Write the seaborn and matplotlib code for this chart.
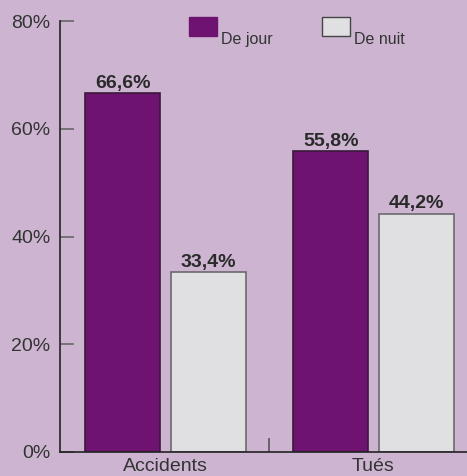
import matplotlib
matplotlib.use("Agg")
import matplotlib.pyplot as plt
import seaborn as sns
import pandas as pd
from matplotlib.patches import Patch

categories = ["Accidents", "Tués"]
series = ["De jour", "De nuit"]
de_jour = [66.6, 55.8]
de_nuit = [33.4, 44.2]
y_ticks = [0, 20, 40, 60, 80]

bg = "#CDB5D2"
purple = "#6E1470"
light = "#E0E0E2"

df = pd.DataFrame({
    "cat": categories * 2,
    "serie": [series[0]] * 2 + [series[1]] * 2,
    "val": de_jour + de_nuit,
})

sns.set_style("white")
plt.rcParams["font.family"] = ["Liberation Sans", "DejaVu Sans"]

fig = plt.figure(figsize=(4.67, 4.76), dpi=100, facecolor=bg)
ax = fig.add_axes([60 / 467, 24 / 476, 1 - 60 / 467, (452 - 21) / 476])
ax.set_facecolor(bg)

sns.barplot(data=df, x="cat", y="val", hue="serie", order=categories,
            hue_order=series, palette=[purple, light], width=0.82, gap=0.12,
            ax=ax, legend=False, saturation=1)

edges = ["#3A1A3A", "#6A6A6A"]
for cont, ec in zip(ax.containers, edges):
    for p in cont:
        p.set_edgecolor(ec)
        p.set_linewidth(1.2)
    ax.bar_label(cont, labels=[f"{v:.1f}%".replace(".", ",") for v in cont.datavalues],
                 padding=1, fontsize=14, fontweight="bold", color="#2A2A2A")

ax.set_ylim(0, 80)
ax.set_xlim(-0.507, 1.45)
ax.set_yticks(y_ticks)
ax.set_yticklabels([f"{t}%" for t in y_ticks], fontsize=14, color="#333333")
ax.tick_params(axis="y", left=True, direction="in", length=10, width=1.2, color="#666666", pad=7)
ax.set_xticks([0, 1])
ax.set_xticklabels(categories, fontsize=14, color="#333333")
ax.tick_params(axis="x", bottom=True, length=0, pad=4)
ax.set_xticks([0.5], minor=True)
ax.tick_params(axis="x", which="minor", bottom=True, direction="in", length=10, width=1.2, color="#555555")
ax.set_xlabel("")
ax.set_ylabel("")

for s in ["top", "right"]:
    ax.spines[s].set_visible(False)
for s in ["left", "bottom"]:
    ax.spines[s].set_color("#222222")
    ax.spines[s].set_linewidth(1.2)

handles = [Patch(facecolor=purple, edgecolor=purple), Patch(facecolor=light, edgecolor="#444444")]
leg = fig.legend(handles, series, loc="upper left", bbox_to_anchor=(183 / 467, 1 - 11 / 476),
                 ncol=2, frameon=False, fontsize=11.5, handlelength=1.7, handleheight=1.45,
                 handletextpad=0.3, columnspacing=3.1, borderaxespad=0)
for t in leg.get_texts():
    t.set_color("#333333")
    t.set_va("top")

fig.savefig("out.png", dpi=100, facecolor=bg)
